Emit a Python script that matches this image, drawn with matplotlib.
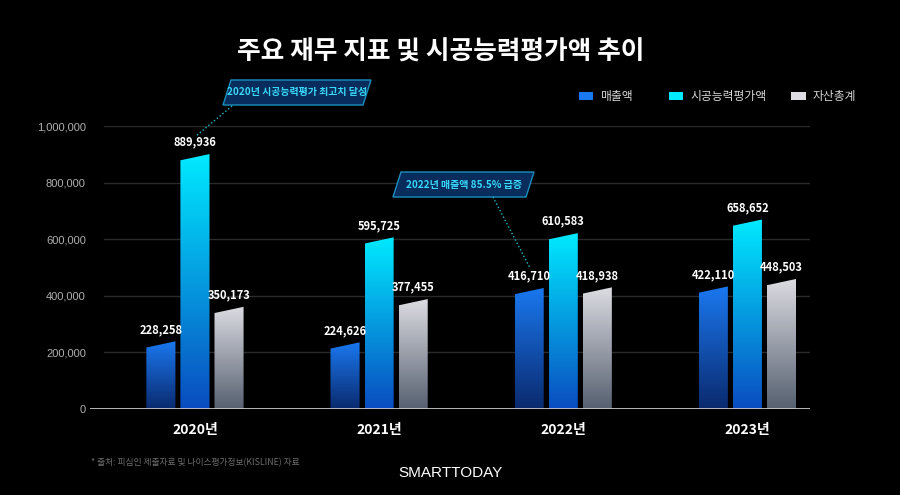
import numpy as np
import matplotlib
matplotlib.use("Agg")
import matplotlib.pyplot as plt
from matplotlib.patches import Polygon
from matplotlib.colors import LinearSegmentedColormap

plt.rcParams['font.family'] = ['Noto Sans CJK KR', 'DejaVu Sans']

years = ['2020년', '2021년', '2022년', '2023년']
sales = [228258, 224626, 416710, 422110]
capacity = [889936, 595725, 610583, 658652]
assets = [350173, 377455, 418938, 448503]
series_names = ['매출액', '시공능력평가액', '자산총계']
yticks = [0, 200000, 400000, 600000, 800000, 1000000]

# bottom -> top colours of each gradient
grad_colors = [('#0a2a6e', '#1a78f0'),
               ('#0a4cc0', '#00eaff'),
               ('#566070', '#dcdce2')]

fig = plt.figure(figsize=(9, 4.95), dpi=100, facecolor='black')
ax = fig.add_axes([0.1, 0.1737, 0.8, 0.5717])
ax.set_facecolor('black')

width = 0.158
offsets = [-0.185, 0, 0.185]
slant = 11000

for s, values in enumerate([sales, capacity, assets]):
    cmap = LinearSegmentedColormap.from_list('g%d' % s, grad_colors[s])
    for i, v in enumerate(values):
        x0 = i + offsets[s] - width / 2
        x1 = i + offsets[s] + width / 2
        poly = Polygon([(x0, 0), (x1, 0), (x1, v + slant), (x0, v - slant)],
                       closed=True, facecolor='none', edgecolor='none')
        ax.add_patch(poly)
        grad = np.linspace(0, 1, 256).reshape(-1, 1)
        im = ax.imshow(grad, cmap=cmap, origin='lower', aspect='auto',
                       extent=[x0, x1, 0, v + slant], zorder=3)
        im.set_clip_path(poly)
        ax.text(i + offsets[s], v + 30000, f'{v:,}', color='white',
                fontsize=8, fontweight='bold', ha='center', va='bottom', zorder=5)

ax.set_xlim(-0.57, 3.34)
ax.set_ylim(0, 1000000)
ax.set_yticks(yticks)
ax.set_yticklabels([f'{t:,}' for t in yticks], color='#b0b0b0', fontsize=8,
                   family=['Liberation Sans', 'DejaVu Sans'])
ax.set_xticks(range(len(years)))
ax.set_xticklabels(years, color='white', fontsize=10, fontweight='bold')
ax.tick_params(length=0, pad=10)
ax.tick_params(axis='y', pad=3)
for t in yticks[1:]:
    ax.axhline(t, xmin=0.02, color='#2a2a2a', linewidth=1, zorder=1)
for sp in ax.spines.values():
    sp.set_visible(False)
ax.axhline(0, color='#c8c8c8', linewidth=2, zorder=4)

# title
fig.text(0.49, 0.895, '주요 재무 지표 및 시공능력평가액 추이', color='white',
         fontsize=18.5, fontweight='bold', ha='center', va='center')

# legend
legend_x = [0.643, 0.743, 0.879]
for s in range(3):
    lx = legend_x[s]
    fig.patches.append(plt.Rectangle((lx, 0.797), 0.016, 0.018, transform=fig.transFigure,
                                     facecolor=grad_colors[s][1], edgecolor='none'))
    fig.text(lx + 0.024, 0.806, series_names[s], color='#d8d8d8', fontsize=8.5,
             va='center', ha='left')

# callouts
def callout(x0, y0, w, h, skew, text, line_from, line_to):
    pts = [(x0 + skew, y0), (x0 + w + skew, y0), (x0 + w, y0 + h), (x0, y0 + h)]
    pts = [(px / 900, 1 - py / 495) for px, py in pts]
    fig.patches.append(Polygon(pts, closed=True, transform=fig.transFigure,
                               facecolor='#082c5c', edgecolor='#1a8fbf', linewidth=1))
    fig.text((x0 + w / 2 + skew / 2) / 900, 1 - (y0 + h / 2) / 495, text,
             color='#38d8f8', fontsize=7.2, fontweight='bold', ha='center', va='center')
    fig.lines.append(plt.Line2D([line_from[0] / 900, line_to[0] / 900],
                                [1 - line_from[1] / 495, 1 - line_to[1] / 495],
                                transform=fig.transFigure, color='#20b8c8',
                                linestyle=':', linewidth=1))

callout(223, 80, 140, 25, 8, '2020년 시공능력평가 최고치 달성', (232, 106), (196, 136))
callout(393, 172, 133, 25, 8, '2022년 매출액 85.5% 급증', (493, 197), (530, 268))

# footnote and logo
fig.text(0.101, 0.065, '* 출처: 피심인 제출자료 및 나이스평가정보(KISLINE) 자료',
         color='#6e6e6e', fontsize=6.3, ha='left', va='center')
fig.text(0.5, 0.045, 'SMARTTODAY', color='white', fontsize=11, ha='center', va='center',
         family=['Liberation Sans', 'DejaVu Sans'])

fig.savefig('out.png', dpi=100, facecolor='black')
